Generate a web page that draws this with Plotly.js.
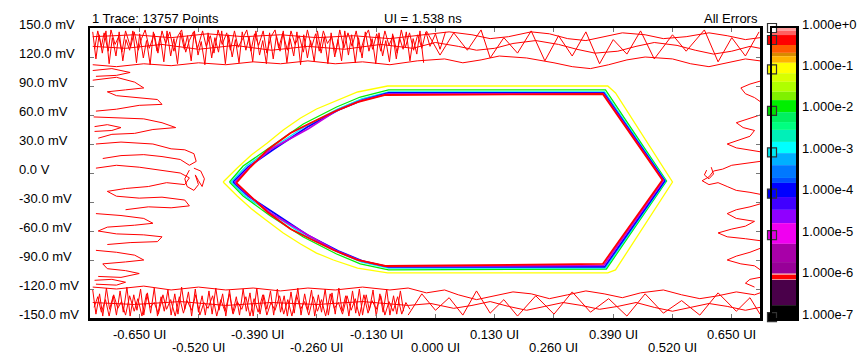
<!DOCTYPE html>
<html>
<head>
<meta charset="utf-8">
<script src="https://cdn.plot.ly/plotly-3.0.1.min.js"></script>
<style>html,body{margin:0;padding:0;background:#fff;}#chart{width:866px;height:354px;}</style>
</head>
<body>
<div id="chart"></div>
<script>
// ---------- axis ticks ----------
const yTickVals = [150,120,90,60,30,0,-30,-60,-90,-120,-150];
const yTickText = ['150.0 mV','120.0 mV','90.0 mV','60.0 mV','30.0 mV','0.0 V','-30.0 mV','-60.0 mV','-90.0 mV','-120.0 mV','-150.0 mV'];
const xTickVals = [-0.65,-0.52,-0.39,-0.26,-0.13,0,0.13,0.26,0.39,0.52,0.65];
const xTickText = ['-0.650 UI','-0.520 UI','-0.390 UI','-0.260 UI','-0.130 UI','0.000 UI','0.130 UI','0.260 UI','0.390 UI','0.520 UI','0.650 UI'];
const xRange = [-0.758, 0.712];
const yRange = [-150, 150];

// ---------- colour bar (log10 of error ratio) ----------
const cbTickVals = [0,-1,-2,-3,-4,-5,-6,-7];
const cbTickText = ['1.000e+0','1.000e-1','1.000e-2','1.000e-3','1.000e-4','1.000e-5','1.000e-6','1.000e-7'];
const cbBandTop    = [0,-0.07,-0.17,-0.41,-0.60,-0.68,-0.84,-1.09,-1.30,-1.54,-1.74,-2.03,-2.27,-2.46,-2.75,-3.02,-3.31,-3.62,-3.74,-4.08,-4.39,-4.71,-5.21,-5.65,-5.93,-5.96,-6.06,-6.08,-6.69];
const cbBandBottom = [-0.07,-0.17,-0.41,-0.60,-0.68,-0.84,-1.09,-1.30,-1.54,-1.74,-2.03,-2.27,-2.46,-2.75,-3.02,-3.31,-3.62,-3.74,-4.08,-4.39,-4.71,-5.21,-5.65,-5.93,-5.96,-6.06,-6.08,-6.69,-7.0];
const cbBandColor  = ['#FF9C9C','#FF6060','#FF0000','#FF5A00','#D88A00','#FFB400','#FFFF00','#D8FF00','#B0FF00','#80F000','#00F000','#00F060','#00FF80','#00F0B8','#00FFFF','#00B0FF','#0078FF','#0050FF','#0000FF','#4000FF','#9000FF','#F000F0','#A800A8','#980098','#FF9090','#FF0000','#FF9090','#4A004A','#000000'];
const cbMarkerLevels = [0,-0.29,-1,-2,-3,-4,-5,-6.98];
const cbMarkerColors = ['#FFFFFF','#FF0000','#FFFF00','#00E000','#00E8F0','#0000FF','#E000E0','#000000'];

// ---------- eye contours (x in UI, y in mV) ----------
const eyeYellowX = [-0.466,-0.435,-0.404,-0.369,-0.334,-0.296,-0.261,-0.224,-0.171,-0.105,0.378,0.395,0.520,0.395,0.378,-0.105,-0.171,-0.224,-0.261,-0.296,-0.334,-0.369,-0.404,-0.435,-0.466];
const eyeYellowY = [-9.3,5.2,18.6,31.0,44.5,56.9,66.2,73.4,83.8,90.0,90.0,82.8,-9.3,-100.3,-103.4,-103.4,-98.3,-90.0,-82.8,-73.4,-62.0,-49.7,-37.0,-23.8,-9.3];
const eyeGreenX = [-0.452,-0.422,-0.362,-0.290,-0.217,-0.165,-0.103,0.373,0.507,0.375,-0.103,-0.165,-0.217,-0.290,-0.362,-0.422,-0.452];
const eyeGreenY = [-9.3,7.2,26.9,50.7,68.3,78.6,85.9,85.9,-8.3,-99.3,-100.3,-94.1,-83.8,-66.2,-44.5,-23.8,-9.3];
const eyeCyanX = [-0.448,-0.415,-0.358,-0.285,-0.215,-0.162,-0.103,0.371,0.505,0.373,-0.103,-0.162,-0.215,-0.285,-0.358,-0.415,-0.448];
const eyeCyanY = [-9.3,7.2,25.9,48.6,66.2,76.6,83.8,83.8,-8.3,-98.3,-98.3,-92.1,-81.7,-65.2,-42.4,-24.8,-9.3];
const eyeBlueX = [-0.444,-0.411,-0.354,-0.281,-0.213,-0.160,-0.103,0.369,0.503,0.371,-0.103,-0.160,-0.213,-0.281,-0.354,-0.411,-0.444];
const eyeBlueY = [-9.3,6.2,24.8,47.6,65.2,75.5,82.8,82.8,-8.3,-97.2,-97.2,-91.0,-80.7,-64.1,-41.4,-23.8,-9.3];
const eyeMagentaX = [-0.440,-0.408,-0.362,-0.278,-0.219,-0.166,-0.106,0.368,0.500,0.369,-0.106,-0.166,-0.219,-0.278,-0.362,-0.408,-0.440];
const eyeMagentaY = [-9.8,6.2,24.3,46.0,64.1,74.5,81.7,82.2,-7.8,-95.6,-96.7,-90.5,-80.2,-64.6,-41.4,-23.8,-9.8];
const eyeRedX = [-0.437,-0.406,-0.369,-0.318,-0.274,-0.224,-0.171,-0.110,0.367,0.498,0.367,-0.110,-0.171,-0.224,-0.274,-0.318,-0.369,-0.406,-0.437];
const eyeRedY = [-10.3,6.2,23.8,41.4,51.7,63.1,73.4,80.7,81.7,-7.2,-94.1,-96.2,-90.0,-79.7,-68.3,-57.9,-40.3,-23.8,-10.3];

// ---------- red 1e-6 noise contours (x in UI, y in mV) ----------
const noiseTopDense = [[-0.752,146],[-0.745,118],[-0.738,143],[-0.731,124],[-0.723,147],[-0.716,113],[-0.709,140],[-0.701,121],[-0.694,146],[-0.686,116],[-0.679,138],[-0.671,127],[-0.664,147],[-0.656,114],[-0.649,144],[-0.641,119],[-0.634,137],[-0.626,112],[-0.619,146],[-0.611,126],[-0.604,141],[-0.596,115],[-0.589,147],[-0.581,121],[-0.574,139],[-0.566,113],[-0.559,145],[-0.551,128],[-0.544,142],[-0.536,116],[-0.529,147],[-0.521,122],[-0.514,136],[-0.506,112],[-0.499,145],[-0.491,119],[-0.484,140],[-0.476,125],[-0.469,147],[-0.461,113],[-0.454,143],[-0.446,120],[-0.439,138],[-0.431,114],[-0.424,146],[-0.416,127],[-0.409,141],[-0.401,115],[-0.394,147],[-0.386,122],[-0.379,137],[-0.371,113],[-0.364,145],[-0.356,118],[-0.349,142],[-0.341,126],[-0.334,147],[-0.326,114],[-0.319,139],[-0.311,121],[-0.304,146],[-0.296,112],[-0.289,143],[-0.281,119],[-0.274,137],[-0.266,115],[-0.259,147],[-0.251,124],[-0.244,141],[-0.236,113],[-0.229,145],[-0.221,120],[-0.214,138],[-0.206,116],[-0.199,147],[-0.191,122],[-0.184,143],[-0.176,114],[-0.169,140],[-0.161,119],[-0.154,146],[-0.146,126],[-0.139,139],[-0.131,113],[-0.124,145],[-0.116,121],[-0.109,137],[-0.101,115],[-0.094,144],[-0.086,118],[-0.079,140],[-0.071,128],[-0.064,146],[-0.056,116],[-0.049,139],[-0.041,123],[-0.034,147],[-0.026,114]];
const noiseTopDense2 = [[-0.748,128],[-0.741,147],[-0.733,131],[-0.727,145],[-0.718,126],[-0.712,148],[-0.703,133],[-0.695,141],[-0.688,125],[-0.680,147],[-0.669,130],[-0.661,146],[-0.652,127],[-0.645,139],[-0.637,148],[-0.628,129],[-0.617,144],[-0.609,124],[-0.600,147],[-0.592,134],[-0.583,146],[-0.574,126],[-0.566,141],[-0.557,148],[-0.548,125],[-0.540,137],[-0.531,146],[-0.522,129],[-0.511,147],[-0.503,131],[-0.494,142],[-0.486,124],[-0.477,148],[-0.468,133],[-0.458,145],[-0.450,127],[-0.441,147],[-0.433,130],[-0.423,139],[-0.414,148],[-0.405,126],[-0.397,144],[-0.388,132],[-0.378,147],[-0.370,124],[-0.361,141],[-0.352,148],[-0.344,129],[-0.335,145],[-0.325,127],[-0.317,147],[-0.308,133],[-0.299,142],[-0.290,125],[-0.281,148],[-0.272,130],[-0.263,144],[-0.255,126],[-0.246,147],[-0.237,134],[-0.228,141],[-0.219,124],[-0.210,148],[-0.201,129],[-0.192,145],[-0.183,131],[-0.174,147],[-0.165,125],[-0.156,140],[-0.147,148],[-0.138,128],[-0.129,144],[-0.120,126],[-0.111,147],[-0.102,132],[-0.093,142],[-0.084,124],[-0.075,148],[-0.066,130],[-0.057,145],[-0.048,127],[-0.039,143],[-0.030,129],[-0.021,146],[-0.012,131],[0.000,144],[0.010,128],[0.022,146]];
const noiseTopSparse = [[-0.02,147],[0.01,122],[0.04,145],[0.07,127],[0.10,148],[0.12,119],[0.15,140],[0.18,124],[0.21,147],[0.24,116],[0.27,142],[0.30,121],[0.33,146],[0.36,113],[0.39,138],[0.42,123],[0.45,147],[0.48,118],[0.52,143],[0.55,126],[0.59,148],[0.62,115],[0.65,140],[0.68,121],[0.71,146]];
const noiseTopLine1 = [[-0.752,112],[-0.70,110],[-0.64,113],[-0.58,111],[-0.52,114],[-0.46,112],[-0.40,115],[-0.34,113],[-0.28,116],[-0.22,113],[-0.16,115],[-0.10,112],[-0.04,116],[0.02,118],[0.06,114],[0.10,117],[0.14,121],[0.20,119],[0.26,114],[0.30,110],[0.34,108],[0.38,112],[0.42,117],[0.46,120],[0.52,118],[0.56,113],[0.60,110],[0.64,114],[0.68,118],[0.712,116]];
const noiseTopLine2 = [[-0.752,131],[-0.68,129],[-0.60,133],[-0.52,128],[-0.44,132],[-0.36,127],[-0.28,131],[-0.20,128],[-0.12,133],[-0.05,129],[0.00,135],[0.05,131],[0.09,127],[0.13,129],[0.17,134],[0.22,137],[0.27,133],[0.31,128],[0.35,124],[0.40,126],[0.44,131],[0.48,135],[0.53,132],[0.57,127],[0.61,123],[0.65,126],[0.69,131],[0.712,129]];
const noiseTopLine3 = [[-0.752,141],[-0.66,143],[-0.58,140],[-0.50,144],[-0.42,141],[-0.34,143],[-0.26,140],[-0.18,142],[-0.10,139],[-0.04,142],[0.03,146],[0.08,143],[0.12,139],[0.16,141],[0.21,146],[0.25,144],[0.29,139],[0.33,137],[0.37,141],[0.41,145],[0.46,143],[0.50,139],[0.55,141],[0.60,145],[0.64,142],[0.68,138],[0.712,140]];
const noiseBotDense = [[-0.752,-121],[-0.745,-146],[-0.737,-125],[-0.730,-148],[-0.722,-119],[-0.715,-141],[-0.707,-127],[-0.700,-147],[-0.692,-122],[-0.685,-144],[-0.677,-118],[-0.670,-148],[-0.662,-126],[-0.655,-142],[-0.647,-120],[-0.640,-147],[-0.632,-124],[-0.625,-145],[-0.617,-119],[-0.610,-148],[-0.602,-128],[-0.595,-143],[-0.587,-121],[-0.580,-147],[-0.572,-125],[-0.565,-146],[-0.557,-118],[-0.550,-141],[-0.542,-123],[-0.535,-148],[-0.527,-120],[-0.520,-144],[-0.512,-127],[-0.505,-147],[-0.497,-122],[-0.490,-146],[-0.482,-119],[-0.475,-142],[-0.467,-125],[-0.460,-148],[-0.452,-121],[-0.445,-145],[-0.437,-128],[-0.430,-147],[-0.422,-120],[-0.415,-143],[-0.407,-124],[-0.400,-148],[-0.392,-119],[-0.385,-146],[-0.377,-126],[-0.370,-141],[-0.362,-122],[-0.355,-147],[-0.347,-120],[-0.340,-144],[-0.332,-127],[-0.325,-148],[-0.317,-123],[-0.310,-145],[-0.302,-119],[-0.295,-147],[-0.287,-125],[-0.280,-142],[-0.272,-121],[-0.265,-148],[-0.257,-126],[-0.250,-144],[-0.242,-120],[-0.235,-147],[-0.227,-124],[-0.220,-146],[-0.212,-119],[-0.205,-143],[-0.197,-127],[-0.190,-148],[-0.182,-122],[-0.175,-145],[-0.167,-120],[-0.160,-147],[-0.152,-126],[-0.145,-142],[-0.137,-121],[-0.130,-148],[-0.122,-125],[-0.115,-144],[-0.107,-120],[-0.100,-147],[-0.092,-127],[-0.085,-146],[-0.077,-122],[-0.070,-143]];
const noiseBotDense2 = [[-0.749,-139],[-0.741,-128],[-0.733,-144],[-0.724,-131],[-0.716,-148],[-0.706,-126],[-0.697,-140],[-0.689,-133],[-0.680,-147],[-0.671,-127],[-0.661,-143],[-0.653,-130],[-0.644,-148],[-0.634,-125],[-0.626,-139],[-0.617,-134],[-0.608,-146],[-0.598,-126],[-0.590,-141],[-0.581,-131],[-0.571,-148],[-0.562,-128],[-0.553,-145],[-0.545,-132],[-0.535,-142],[-0.526,-126],[-0.517,-147],[-0.508,-134],[-0.499,-140],[-0.489,-127],[-0.480,-148],[-0.471,-131],[-0.462,-143],[-0.452,-125],[-0.444,-146],[-0.435,-133],[-0.425,-141],[-0.416,-128],[-0.407,-148],[-0.398,-130],[-0.389,-144],[-0.379,-126],[-0.370,-147],[-0.361,-134],[-0.352,-142],[-0.342,-127],[-0.333,-146],[-0.324,-131],[-0.315,-148],[-0.305,-126],[-0.296,-141],[-0.287,-133],[-0.278,-147],[-0.268,-128],[-0.259,-143],[-0.250,-131],[-0.241,-148],[-0.231,-125],[-0.222,-140],[-0.213,-134],[-0.204,-146],[-0.194,-127],[-0.185,-142],[-0.176,-130],[-0.167,-148],[-0.157,-126],[-0.148,-145],[-0.139,-132],[-0.130,-141],[-0.120,-127],[-0.111,-147],[-0.102,-133],[-0.093,-143],[-0.083,-128],[-0.074,-146],[-0.065,-134],[-0.056,-141]];
const noiseBotSparse = [[-0.06,-147],[-0.03,-125],[0.00,-142],[0.03,-129],[0.06,-147],[0.09,-122],[0.12,-145],[0.15,-131],[0.18,-148],[0.22,-127],[0.26,-146],[0.30,-123],[0.34,-144],[0.38,-130],[0.42,-148],[0.46,-125],[0.50,-145],[0.54,-132],[0.58,-147],[0.62,-124],[0.66,-143],[0.69,-129],[0.712,-146]];
const noiseBotLine1 = [[-0.752,-118],[-0.70,-120],[-0.64,-117],[-0.58,-121],[-0.52,-118],[-0.46,-121],[-0.40,-119],[-0.34,-122],[-0.28,-119],[-0.22,-121],[-0.16,-118],[-0.10,-121],[-0.06,-119],[-0.02,-124],[0.02,-121],[0.05,-126],[0.09,-131],[0.13,-127],[0.17,-123],[0.21,-125],[0.25,-130],[0.29,-126],[0.33,-122],[0.37,-125],[0.41,-129],[0.45,-124],[0.50,-121],[0.54,-126],[0.58,-130],[0.62,-127],[0.66,-123],[0.70,-126],[0.712,-124]];
const noiseBotLine2 = [[-0.752,-134],[-0.66,-136],[-0.56,-133],[-0.46,-137],[-0.36,-134],[-0.26,-136],[-0.16,-133],[-0.06,-137],[-0.01,-135],[0.04,-140],[0.08,-137],[0.12,-133],[0.16,-138],[0.20,-142],[0.24,-138],[0.28,-134],[0.32,-137],[0.36,-141],[0.40,-138],[0.44,-134],[0.48,-139],[0.52,-143],[0.56,-139],[0.60,-135],[0.64,-138],[0.68,-142],[0.712,-139]];
const noiseLeft1 = [[-0.752,106],[-0.71,108],[-0.67,104],[-0.70,101],[-0.745,100]];
const noiseLeft2 = [[-0.752,96],[-0.70,99],[-0.66,94],[-0.64,88],[-0.68,86],[-0.72,84],[-0.70,80],[-0.66,78],[-0.61,76],[-0.60,71],[-0.65,70],[-0.70,66],[-0.745,64]];
const noiseLeft3 = [[-0.750,58],[-0.70,57],[-0.64,56],[-0.60,52],[-0.57,47],[-0.62,45],[-0.66,41],[-0.71,40],[-0.74,36]];
const noiseLeft4 = [[-0.745,30],[-0.69,32],[-0.62,30],[-0.58,25],[-0.55,24],[-0.53,20],[-0.525,12],[-0.54,8],[-0.56,14],[-0.60,17],[-0.64,19],[-0.69,18],[-0.73,15]];
const noiseLeftKnot = [[-0.53,5],[-0.515,2],[-0.507,-6],[-0.512,-14],[-0.52,-8],[-0.527,-2],[-0.52,-12],[-0.53,-18],[-0.545,-14],[-0.55,-6],[-0.54,3]];
const noiseLeft5 = [[-0.745,5],[-0.70,8],[-0.65,6],[-0.60,3],[-0.56,0],[-0.54,-5],[-0.55,-12],[-0.59,-10],[-0.63,-14],[-0.68,-16],[-0.72,-19],[-0.70,-24],[-0.65,-26],[-0.60,-25],[-0.55,-28],[-0.54,-34],[-0.58,-36],[-0.63,-35],[-0.68,-38]];
const noiseLeft6 = [[-0.745,-42],[-0.69,-44],[-0.64,-47],[-0.62,-52],[-0.66,-54],[-0.72,-56],[-0.74,-60],[-0.70,-63],[-0.64,-64],[-0.60,-66],[-0.61,-71],[-0.67,-72],[-0.72,-74]];
const noiseLeft7 = [[-0.745,-80],[-0.70,-82],[-0.66,-85],[-0.64,-90],[-0.68,-92],[-0.73,-94],[-0.72,-99],[-0.68,-101],[-0.65,-104],[-0.69,-108],[-0.74,-107]];
const noiseLeft8 = [[-0.748,-111],[-0.71,-110],[-0.68,-113],[-0.70,-116],[-0.745,-115]];
const noiseLeft9 = [[-0.748,48],[-0.72,50],[-0.69,47],[-0.71,44],[-0.748,43]];
const noiseRight1 = [[0.712,95],[0.69,92],[0.67,88],[0.68,82],[0.70,78],[0.712,74]];
const noiseRight2 = [[0.712,60],[0.685,56],[0.66,52],[0.675,47],[0.70,44],[0.69,38],[0.665,34],[0.64,30],[0.66,26],[0.69,24],[0.712,22]];
const noiseRight3 = [[0.712,12],[0.68,10],[0.65,8],[0.63,4],[0.61,2],[0.60,-4],[0.585,-8],[0.60,-12],[0.62,-10],[0.64,-14],[0.66,-18],[0.69,-20],[0.712,-22]];
const noiseRightKnot = [[0.595,3],[0.59,-2],[0.60,-6],[0.61,-1],[0.605,6]];
const noiseRight4 = [[0.712,-32],[0.69,-35],[0.66,-38],[0.64,-42],[0.66,-47],[0.70,-50],[0.68,-55],[0.65,-58],[0.62,-62],[0.64,-66],[0.68,-68],[0.712,-70]];
const noiseRight5 = [[0.712,-78],[0.69,-82],[0.66,-86],[0.64,-90],[0.67,-94],[0.70,-96],[0.712,-100]];
const noiseRight6 = [[0.712,-108],[0.69,-110],[0.68,-114],[0.70,-118]];

const noiseGroups = [noiseTopDense,noiseTopDense2,noiseTopSparse,noiseTopLine1,noiseTopLine2,noiseTopLine3,noiseBotDense,noiseBotDense2,noiseBotSparse,noiseBotLine1,noiseBotLine2,noiseLeft1,noiseLeft2,noiseLeft3,noiseLeft4,noiseLeftKnot,noiseLeft5,noiseLeft6,noiseLeft7,noiseLeft8,noiseLeft9,noiseRight1,noiseRight2,noiseRight3,noiseRightKnot,noiseRight4,noiseRight5,noiseRight6];
const noiseX = [], noiseY = [];
noiseGroups.forEach(g => { g.forEach(p => { noiseX.push(p[0]); noiseY.push(p[1]); }); noiseX.push(null); noiseY.push(null); });

// ---------- traces ----------
const FONT = 'Arial, "Liberation Sans", sans-serif';
function contour(x, y, color, w) {
  return {type:'scatter', mode:'lines', x:x, y:y, xaxis:'x', yaxis:'y', line:{color:color, width:w}, hoverinfo:'skip', showlegend:false};
}
const traces = [
  {type:'scatter', mode:'lines', x:noiseX, y:noiseY, connectgaps:false, line:{color:'#FF0000', width:1}, hoverinfo:'skip', showlegend:false},
  contour(eyeYellowX, eyeYellowY, '#FFFF00', 1.3),
  contour(eyeGreenX, eyeGreenY, '#00F000', 1.3),
  contour(eyeCyanX, eyeCyanY, '#00E8F8', 1.4),
  contour(eyeBlueX, eyeBlueY, '#0000FF', 1.7),
  contour(eyeMagentaX, eyeMagentaY, '#C000E0', 1.7),
  contour(eyeRedX, eyeRedY, '#FF0000', 1.8),
  {type:'bar', x:cbBandTop.map(() => 0), base:cbBandBottom, y:cbBandTop.map((t,i) => t - cbBandBottom[i]), width:1,
   marker:{color:cbBandColor, line:{width:0}}, xaxis:'x2', yaxis:'y2', hoverinfo:'skip', showlegend:false},
  {type:'scatter', mode:'markers', x:cbMarkerLevels.map(() => -0.5), y:cbMarkerLevels, xaxis:'x2', yaxis:'y2', cliponaxis:false,
   marker:{symbol:'square', size:9, color:cbMarkerColors, line:{color:'#333', width:1.2}}, hoverinfo:'skip', showlegend:false}
];

// ---------- annotations (labels) ----------
const ann = [];
yTickVals.forEach((v,i) => ann.push({xref:'paper', yref:'y', x:(17-90)/706, y:v, xanchor:'left', yanchor:'middle', yshift:4, text:yTickText[i], showarrow:false, font:{family:FONT, size:13, color:'#000'}}));
xTickVals.forEach((v,i) => ann.push({xref:'x', yref:'paper', x:v, y:0, xanchor:'center', yanchor:'middle', yshift:(i % 2 === 0) ? -16 : -29, text:xTickText[i], showarrow:false, font:{family:FONT, size:13, color:'#000'}}));
cbTickVals.forEach((v,i) => ann.push({xref:'paper', yref:'y2', x:(800-90)/706, y:v, xanchor:'left', yanchor:'middle', yshift:4, text:cbTickText[i], showarrow:false, font:{family:FONT, size:13, color:'#000'}}));
ann.push({xref:'paper', yref:'paper', x:0, y:1, xanchor:'left', yanchor:'bottom', yshift:0, text:'1 Trace: 13757 Points', showarrow:false, font:{family:FONT, size:13, color:'#000'}});
ann.push({xref:'paper', yref:'paper', x:(423-90)/706, y:1, xanchor:'center', yanchor:'bottom', yshift:0, text:'UI = 1.538 ns', showarrow:false, font:{family:FONT, size:13, color:'#000'}});
ann.push({xref:'paper', yref:'paper', x:(760-90)/706, y:1, xanchor:'right', yanchor:'bottom', yshift:0, text:'All Errors', showarrow:false, font:{family:FONT, size:13, color:'#000'}});

const layout = {
  width:866, height:354,
  margin:{l:90, r:70, t:28, b:36, pad:0},
  paper_bgcolor:'#FFFFFF', plot_bgcolor:'#FFFFFF',
  showlegend:false, barmode:'overlay',
  xaxis:{domain:[0, 670/706], range:xRange, showgrid:false, zeroline:false, showline:true, mirror:'ticks', linecolor:'#000', linewidth:2.5,
         ticks:'inside', ticklen:4, tickcolor:'#777', tickwidth:1, tickvals:xTickVals, showticklabels:false, fixedrange:true},
  yaxis:{domain:[0,1], range:yRange, showgrid:false, zeroline:false, showline:true, mirror:'ticks', linecolor:'#000', linewidth:2.5,
         ticks:'inside', ticklen:4, tickcolor:'#777', tickwidth:1, tickvals:yTickVals, showticklabels:false, fixedrange:true},
  xaxis2:{domain:[682/706, 1], range:[-0.5,0.5], anchor:'y2', showgrid:false, zeroline:false, showline:true, mirror:true, linecolor:'#000', linewidth:2.5, showticklabels:false, ticks:'', fixedrange:true},
  yaxis2:{domain:[0,1], range:[-7,0], anchor:'x2', showgrid:false, zeroline:false, showline:true, mirror:true, linecolor:'#000', linewidth:2.5, showticklabels:false, ticks:'', fixedrange:true},
  annotations:ann
};

Plotly.newPlot('chart', traces, layout, {staticPlot:true, displayModeBar:false});
</script>
</body>
</html>
